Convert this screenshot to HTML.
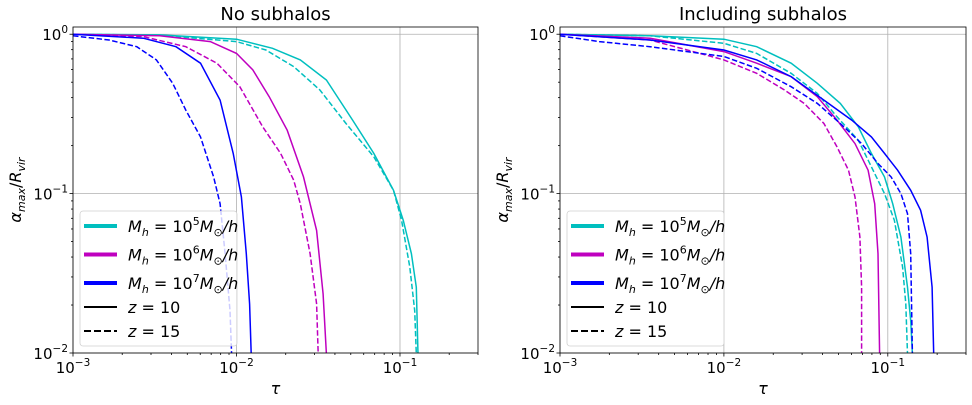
<!DOCTYPE html>
<html><head><meta charset="utf-8"><style>
body{margin:0;background:#fff;}
svg{display:block;font-family:"DejaVu Sans","Liberation Sans",sans-serif;}
</style></head><body>
<svg id="chart" width="972" height="405"></svg>
<script>
// data: log10(tau) and log10(alpha_max/R_vir)
const noSubCyanZ10Tau = [-3,-2.47,-2.00,-1.78,-1.61,-1.45,-1.29,-1.16,-1.04,-0.98,-0.93,-0.90,-0.89,-0.89];
const noSubCyanZ10Alpha = [0,-0.004,-0.031,-0.088,-0.161,-0.287,-0.539,-0.748,-0.979,-1.168,-1.377,-1.587,-2.006,-2.1];
const noSubCyanZ15Tau = [-3,-2.47,-2.00,-1.82,-1.65,-1.49,-1.33,-1.16,-1.04,-0.99,-0.94,-0.91,-0.90,-0.90];
const noSubCyanZ15Alpha = [0,-0.006,-0.046,-0.099,-0.203,-0.35,-0.56,-0.769,-0.979,-1.168,-1.461,-1.734,-2.006,-2.1];
const noSubMagZ10Tau = [-3,-2.47,-2.16,-2.00,-1.90,-1.80,-1.69,-1.59,-1.51,-1.47,-1.45,-1.45];
const noSubMagZ10Alpha = [0,-0.01,-0.046,-0.12,-0.224,-0.392,-0.602,-0.895,-1.231,-1.629,-2.006,-2.1];
const noSubMagZ15Tau = [-3,-2.57,-2.31,-2.12,-1.98,-1.84,-1.73,-1.65,-1.61,-1.55,-1.51,-1.50,-1.50];
const noSubMagZ15Alpha = [0,-0.015,-0.078,-0.182,-0.329,-0.581,-0.748,-0.916,-1.063,-1.377,-1.692,-2.006,-2.1];
const noSubBlueZ10Tau = [-3,-2.57,-2.37,-2.22,-2.10,-2.02,-1.97,-1.94,-1.92,-1.91,-1.91];
const noSubBlueZ10Alpha = [0,-0.025,-0.078,-0.182,-0.413,-0.748,-1.021,-1.377,-1.692,-2.006,-2.1];
const noSubBlueZ15Tau = [-3,-2.78,-2.61,-2.49,-2.39,-2.31,-2.22,-2.14,-2.10,-2.07,-2.04,-2.03,-2.03];
const noSubBlueZ15Alpha = [-0.01,-0.036,-0.078,-0.161,-0.308,-0.476,-0.644,-0.895,-1.063,-1.377,-1.734,-2.006,-2.1];

const subCyanZ10Tau = [-3,-2.45,-2.00,-1.80,-1.59,-1.43,-1.29,-1.18,-1.10,-1.02,-0.97,-0.92,-0.88,-0.86,-0.85,-0.85];
const subCyanZ10Alpha = [0,-0.01,-0.031,-0.078,-0.182,-0.308,-0.434,-0.581,-0.748,-0.895,-1.063,-1.273,-1.587,-1.797,-2.006,-2.1];
const subCyanZ15Tau = [-3,-2.45,-2.00,-1.80,-1.59,-1.43,-1.31,-1.18,-1.10,-1.02,-0.96,-0.91,-0.89,-0.88,-0.88];
const subCyanZ15Alpha = [0,-0.01,-0.057,-0.12,-0.245,-0.371,-0.518,-0.665,-0.832,-1.0,-1.168,-1.461,-1.692,-2.006,-2.1];
const subMagZ10Tau = [-3,-2.45,-2.00,-1.80,-1.59,-1.43,-1.31,-1.20,-1.12,-1.08,-1.06,-1.05,-1.05];
const subMagZ10Alpha = [0,-0.025,-0.109,-0.182,-0.266,-0.392,-0.539,-0.686,-0.853,-1.063,-1.377,-2.006,-2.1];
const subMagZ15Tau = [-3,-2.45,-2.00,-1.80,-1.63,-1.51,-1.39,-1.31,-1.24,-1.20,-1.17,-1.16,-1.16,-1.16];
const subMagZ15Alpha = [0,-0.036,-0.161,-0.245,-0.35,-0.434,-0.56,-0.707,-0.853,-1.021,-1.273,-1.587,-2.006,-2.1];
const subBlueZ10Tau = [-3,-2.45,-2.00,-1.80,-1.59,-1.39,-1.22,-1.10,-1.02,-0.94,-0.86,-0.80,-0.76,-0.73,-0.72,-0.72];
const subBlueZ10Alpha = [0,-0.036,-0.099,-0.161,-0.266,-0.413,-0.539,-0.644,-0.748,-0.853,-0.979,-1.105,-1.273,-1.587,-2.006,-2.1];
const subBlueZ15Tau = [-3,-2.76,-2.45,-2.00,-1.80,-1.59,-1.43,-1.29,-1.16,-1.06,-0.98,-0.92,-0.88,-0.86,-0.85,-0.85];
const subBlueZ15Alpha = [-0.01,-0.046,-0.078,-0.14,-0.214,-0.329,-0.434,-0.56,-0.686,-0.811,-0.895,-1.0,-1.126,-1.377,-2.006,-2.1];

const panelTitles = ["No subhalos","Including subhalos"];
const xTickExps = [-3,-2,-1];
const yTickExps = [-2,-1,0];
const legendMasses = ["5","6","7"];
const legendRedshifts = ["10","15"];

const NS="http://www.w3.org/2000/svg";
const svg=document.getElementById('chart');
function el(tag,attrs,parent){const e=document.createElementNS(NS,tag);for(const k in attrs)e.setAttribute(k,attrs[k]);(parent||svg).appendChild(e);return e;}
const C={cyan:"#00bfbf",mag:"#bf00bf",blue:"#0000ff"};
const panels=[
 {x0:73,x1:478,series:[
  [noSubCyanZ10Tau,noSubCyanZ10Alpha,C.cyan,false,'cyan-z10-line'],[noSubCyanZ15Tau,noSubCyanZ15Alpha,C.cyan,true,'cyan-z15-line'],
  [noSubMagZ10Tau,noSubMagZ10Alpha,C.mag,false,'magenta-z10-line'],[noSubMagZ15Tau,noSubMagZ15Alpha,C.mag,true,'magenta-z15-line'],
  [noSubBlueZ10Tau,noSubBlueZ10Alpha,C.blue,false,'blue-z10-line'],[noSubBlueZ15Tau,noSubBlueZ15Alpha,C.blue,true,'blue-z15-line']]},
 {x0:560,x1:966,series:[
  [subCyanZ10Tau,subCyanZ10Alpha,C.cyan,false,'cyan-z10-line'],[subCyanZ15Tau,subCyanZ15Alpha,C.cyan,true,'cyan-z15-line'],
  [subMagZ10Tau,subMagZ10Alpha,C.mag,false,'magenta-z10-line'],[subMagZ15Tau,subMagZ15Alpha,C.mag,true,'magenta-z15-line'],
  [subBlueZ10Tau,subBlueZ10Alpha,C.blue,false,'blue-z10-line'],[subBlueZ15Tau,subBlueZ15Alpha,C.blue,true,'blue-z15-line']]}
];
const Y0=27,Y1=353, XMIN=-3, XMAX=Math.log10(0.3), YMIN=-2, YMAX=Math.log10(1.11);
panels.forEach((p,pi)=>{
  const g=el('g',{});
  
  
  const sx=v=>p.x0+(v-XMIN)/(XMAX-XMIN)*(p.x1-p.x0);
  const sy=v=>Y1-(v-YMIN)/(YMAX-YMIN)*(Y1-Y0);
  const cid='clip'+pi;
  const cp=el('clipPath',{id:cid},g);el('rect',{x:p.x0,y:Y0,width:p.x1-p.x0,height:Y1-Y0},cp);
  // grid
  xTickExps.forEach(e=>{const l=el('line',{x1:sx(e),x2:sx(e),y1:Y0,y2:Y1,stroke:'#b0b0b0','stroke-width':0.8},g);});
  yTickExps.forEach(e=>{const l=el('line',{x1:p.x0,x2:p.x1,y1:sy(e),y2:sy(e),stroke:'#b0b0b0','stroke-width':0.8},g);});
  // series
  p.series.forEach(s=>{
    const pts=s[0].map((t,i)=>sx(t).toFixed(1)+','+sy(s[1][i]).toFixed(1)).join(' ');
    const pl=el('polyline',{points:pts,fill:'none',stroke:s[2],'stroke-width':1.5,'clip-path':'url(#'+cid+')'},g);
    if(s[3])pl.setAttribute('stroke-dasharray','5.5,2.4');
    
    
  });
  // axes frame
  el('rect',{x:p.x0,y:Y0,width:p.x1-p.x0,height:Y1-Y0,fill:'none',stroke:'#000','stroke-width':0.8},g);
  // x ticks
  for(let d=-3;d<=-1;d++){for(let m=1;m<=9;m++){const v=d+Math.log10(m);if(v>XMAX)break;
    const len=m===1?3.5:2;el('line',{x1:sx(v),x2:sx(v),y1:Y1,y2:Y1+len,stroke:'#000','stroke-width':0.8},g);}}
  xTickExps.forEach(e=>{const t=el('text',{x:sx(e),y:Y1+20,'text-anchor':'middle','font-size':15},g);
    
    t.innerHTML='10<tspan dy="-7" font-size="10.5">\u2212'+(-e)+'</tspan>';});
  for(let d=-2;d<=0;d++){for(let m=1;m<=9;m++){const v=d+Math.log10(m);if(v>YMAX)break;
    const len=m===1?3.5:2;el('line',{x1:p.x0-len,x2:p.x0,y1:sy(v),y2:sy(v),stroke:'#000','stroke-width':0.8},g);}}
  yTickExps.forEach(e=>{const t=el('text',{x:p.x0-5,y:sy(e)+6,'text-anchor':'end','font-size':15},g);
    
    t.innerHTML='10<tspan dy="-7" font-size="10.5">'+(e<0?'\u2212'+(-e):'0')+'</tspan>';});
  const ti=el('text',{x:(p.x0+p.x1)/2,y:20,'text-anchor':'middle','font-size':18},g);ti.textContent=panelTitles[pi];
  
  const xl=el('text',{x:(p.x0+p.x1)/2,y:394,'text-anchor':'middle','font-size':16,'font-style':'italic'},g);xl.textContent='τ';
  
  const yl=el('text',{x:0,y:0,'text-anchor':'middle','font-size':16,transform:'translate('+(p.x0-52)+','+((Y0+Y1)/2)+') rotate(-90)'},g);
  yl.innerHTML='<tspan font-style="italic">α</tspan><tspan font-size="11" dy="4" font-style="italic">max</tspan><tspan dy="-4">/</tspan><tspan font-style="italic">R</tspan><tspan font-size="11" dy="4" font-style="italic">vir</tspan>';
  
  // legend
  const lx=p.x0+7, ly=211;
  const lg=el('g',{},g);
  el('rect',{x:lx,y:ly,width:157,height:135,rx:3,fill:'rgba(255,255,255,0.8)',stroke:'#d0d0d0','stroke-width':0.8},lg);
  const cols=[C.cyan,C.mag,C.blue];
  legendMasses.forEach((m,i)=>{const yy=ly+15+i*28.5;
    const e=el('g',{},lg);
    el('line',{x1:lx+4,x2:lx+37,y1:yy,y2:yy,stroke:cols[i],'stroke-width':4},e);
    const t=el('text',{x:lx+48,y:yy+6,'font-size':16},e);
    t.innerHTML='<tspan font-style="italic">M</tspan><tspan font-size="11" dy="4" font-style="italic">h</tspan><tspan dy="-4"> = 10</tspan><tspan font-size="11" dy="-7">'+m+'</tspan><tspan dy="7" font-style="italic">M</tspan><tspan font-size="11" dy="4">⊙</tspan><tspan dy="-4" font-style="italic">/h</tspan>';});
  legendRedshifts.forEach((z,i)=>{const yy=ly+96+i*24;
    const e=el('g',{},lg);
    const l=el('line',{x1:lx+4,x2:lx+37,y1:yy,y2:yy,stroke:'#000','stroke-width':2},e);
    if(i===1)l.setAttribute('stroke-dasharray','7,3');
    const t=el('text',{x:lx+48,y:yy+6,'font-size':16},e);
    t.innerHTML='<tspan font-style="italic">z</tspan> = '+z;});
});
</script>
</body></html>
